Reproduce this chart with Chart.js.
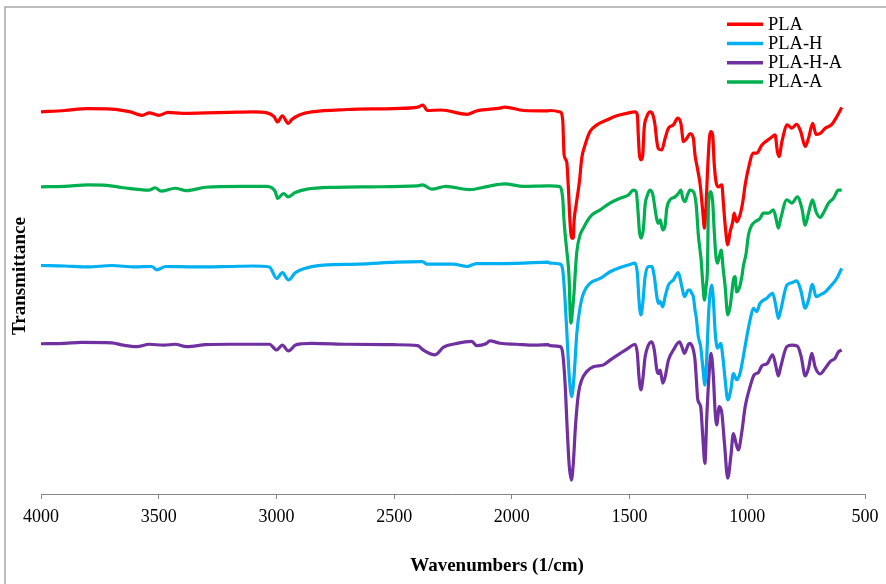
<!DOCTYPE html>
<html>
<head>
<meta charset="utf-8">
<title>FTIR PLA</title>
<script src="https://cdn.jsdelivr.net/npm/chart.js@4.4.1/dist/chart.umd.min.js"></script>
<style>
  body { margin: 0; background: #fff; }
  #contenedor { width: 886px; height: 584px; position: relative; }
</style>
</head>
<body>
<div id="contenedor"><canvas id="myChart"></canvas></div>
<script>
// ticks del eje x (cm-1)
var xTicks = [4000, 3500, 3000, 2500, 2000, 1500, 1000, 500];
var etiquetas = ['PLA', 'PLA-H', 'PLA-H-A', 'PLA-A'];
var colores = ['#FF0000', '#00B0F0', '#7030A0', '#00B050'];

// PLA
var plaWn = [4000,3900,3800,3700,3620,3570,3540,3500,3460,3400,3300,3200,3100,3040,3010,2995,2975,2950,2935,2900,2850,2700,2500,2400,2377,2360,2300,2190,2150,2050,2030,1950,1850,
  1838,1795,1784,1778,1767,1760,1753,1746,1739,1736,1727,1713,1703,1689,1668,1639,1597,1554,1512,1477,1467,1463,1458,1451,1444,1438,1427,1413,1401,1392,1384,1378,1363,1349,1335,1314,1295,1282,1271,1257,1243,1229,1222,1212,1200,1189,1182,1175,1169,1161,1155,1147,1141,1133,1123,1108,1102,1094,1083,1073,1062,1056,1045,1031,1019,1009,995,974,960,938,903,882,872,865,853,830,811,790,773,754,740,722,708,691,669,641,620,599];
var plaT = [79.6,79.9,80.3,80.2,79.6,78.9,79.4,78.9,79.5,79.3,79.4,79.5,79.6,79.4,78.6,77.5,78.8,77.2,78.0,79.0,79.6,80.1,80.3,80.6,81.0,79.9,80.0,79.1,79.8,80.4,80.6,79.9,79.8,
  79.9,79.6,77.9,70.6,69.2,63.8,56.7,53.3,53.3,56.7,60.2,65.1,70.0,72.7,75.5,76.9,77.9,78.8,79.3,79.6,79.0,74.8,70.6,69.6,70.6,76.2,78.6,79.6,79.0,76.9,73.4,72.0,71.7,74.1,76.2,76.9,78.3,77.2,73.4,74.1,75.1,74.1,70.6,67.9,64.4,58.8,55.4,60.2,67.1,74.1,75.5,74.8,69.2,65.1,64.0,64.4,60.9,56.0,51.9,54.6,56.7,58.5,56.7,58.1,60.9,64.4,67.9,71.0,71.0,72.7,74.1,74.8,71.3,70.3,73.4,76.9,76.2,77.0,75.5,72.4,74.1,77.2,74.9,75.1,76.2,77.0,78.6,80.5];

// PLA-H
var plaHWn = [4000,3900,3800,3700,3600,3530,3508,3470,3350,3200,3100,3030,2999,2975,2949,2920,2880,2800,2650,2489,2380,2360,2250,2190,2150,2050,1950,1846,
  1838,1795,1784,1774,1764,1756,1746,1736,1724,1710,1696,1668,1625,1583,1540,1505,1477,1467,1460,1452,1444,1434,1420,1406,1395,1384,1378,1370,1359,1349,1335,1314,1293,1278,1267,1250,1243,1236,1229,1222,1217,1208,1198,1189,1180,1172,1165,1158,1151,1144,1137,1127,1113,1104,1094,1083,1070,1059,1045,1031,1017,1002,988,974,960,946,917,892,878,868,858,832,811,790,773,754,740,723,708,691,669,648,620,599];
var plaHT = [47.6,47.5,47.3,47.6,47.3,47.4,46.7,47.4,47.3,47.4,47.5,47.3,44.9,46.1,44.6,46.1,47.0,47.7,47.9,48.3,48.4,47.9,47.9,47.4,48.0,48.0,48.1,48.3,
  48.1,47.9,46.7,40.4,31.4,24.4,20.3,24.4,33.5,39.0,41.8,43.9,44.9,46.3,47.2,47.7,48.1,46.0,40.4,37.3,39.7,45.3,47.4,47.4,45.3,41.1,39.7,40.1,39.0,41.1,43.5,44.6,46.1,43.2,41.1,42.5,42.5,41.8,41.1,38.3,36.9,32.8,30.7,26.5,22.7,28.6,36.9,41.8,43.5,40.4,34.2,30.4,31.4,28.6,23.8,19.6,21.7,25.1,23.8,25.1,28.6,32.8,36.3,38.7,38.0,39.7,40.8,41.8,39.0,36.6,38.3,43.5,44.0,44.4,42.5,38.7,40.4,43.7,41.1,41.5,42.1,43.2,44.9,47.0];

// PLA-H-A
var plaHAWn = [4000,3900,3830,3700,3650,3593,3540,3480,3430,3381,3300,3200,3100,3030,2999,2975,2949,2920,2890,2850,2700,2500,2400,2376,2326,2290,2240,2170,2150,2110,2093,2050,1980,1900,1846,
  1838,1795,1784,1774,1764,1756,1747,1739,1730,1717,1703,1682,1654,1611,1583,1540,1505,1477,1467,1460,1452,1444,1434,1420,1406,1395,1384,1378,1370,1359,1349,1335,1314,1288,1278,1267,1250,1243,1236,1229,1222,1217,1210,1198,1189,1180,1172,1163,1154,1144,1137,1130,1119,1108,1097,1083,1070,1059,1048,1038,1023,1009,988,971,953,938,915,892,878,868,858,832,811,787,771,754,740,726,712,691,669,648,627,613,599];
var plaHAT = [31.3,31.4,31.6,31.5,31.0,30.7,31.2,31.0,31.2,30.7,31.1,31.2,31.2,31.2,30.0,31.0,29.8,31.0,31.3,31.4,31.2,31.1,30.9,30.0,29.0,30.6,31.3,31.8,30.9,31.3,31.9,31.4,31.2,31.0,31.1,
  30.9,30.7,29.3,23.1,12.6,5.7,2.9,6.4,14.0,21.0,23.8,25.5,26.5,26.9,27.9,29.3,30.4,31.2,29.3,24.4,21.7,23.8,28.6,31.0,31.7,30.0,25.8,25.1,25.8,23.1,24.4,27.9,30.0,31.7,30.7,29.3,31.2,31.4,31.0,30.0,27.9,24.4,19.6,18.2,11.9,6.4,16.1,24.4,29.3,24.4,17.5,14.4,18.2,16.8,10.6,3.3,7.8,12.6,10.6,9.2,13.0,18.2,22.4,24.8,25.3,26.7,27.2,29.0,26.5,24.6,26.5,30.7,31.0,30.8,28.6,24.6,26.2,29.3,26.5,25.0,26.2,27.6,28.3,29.6,30.0];

// PLA-A
var plaAWn = [4000,3900,3800,3720,3650,3540,3515,3490,3430,3381,3300,3150,3040,3005,2995,2970,2950,2920,2870,2750,2600,2400,2380,2340,2280,2180,2100,2030,1950,1850,
  1838,1795,1784,1778,1767,1760,1756,1753,1749,1741,1736,1730,1724,1710,1696,1682,1661,1625,1583,1540,1505,1484,1472,1465,1458,1451,1441,1434,1424,1413,1401,1392,1384,1378,1370,1359,1349,1342,1328,1307,1293,1282,1274,1264,1254,1243,1229,1217,1208,1200,1196,1189,1182,1175,1169,1165,1155,1147,1141,1133,1127,1119,1111,1102,1094,1083,1073,1066,1059,1052,1045,1034,1023,1017,1005,995,981,967,946,932,910,889,878,868,858,832,811,787,768,754,740,723,708,691,677,655,634,613,599];
var plaAT = [64.0,64.1,64.4,64.3,63.8,63.3,63.8,63.1,63.7,63.2,63.9,64.1,64.1,63.0,61.6,62.6,61.9,62.8,63.5,63.9,64.0,64.2,64.4,63.5,64.1,63.4,64.1,64.6,64.1,64.2,
  64.2,64.0,61.6,56.7,50.8,47.4,43.9,38.3,35.6,39.0,41.8,46.7,50.5,54.0,55.4,56.7,58.1,59.2,60.6,61.6,62.3,63.3,63.0,59.5,54.6,53.3,55.4,60.2,62.3,63.3,62.3,59.5,57.1,56.4,57.1,55.0,56.0,59.5,61.3,61.9,62.6,63.3,61.6,60.9,62.3,63.3,63.0,60.2,54.0,50.5,48.8,43.9,40.4,43.2,47.4,60.2,63.0,60.9,55.4,49.4,48.1,49.4,50.8,46.7,43.2,37.3,39.0,41.8,44.6,45.3,42.1,42.9,45.3,47.4,50.1,54.0,56.0,56.7,57.4,58.5,58.5,59.2,57.4,55.4,57.4,61.3,60.6,61.9,59.5,56.0,58.5,61.3,58.8,57.6,58.5,60.6,61.6,63.3,63.3];

function puntos(wn, t) {
  var p = [];
  for (var i = 0; i < wn.length; i++) {
    p.push({ x: wn[i], y: t[i] });
  }
  return p;
}

var series = [puntos(plaWn, plaT), puntos(plaHWn, plaHT), puntos(plaHAWn, plaHAT), puntos(plaAWn, plaAT)];

// marco, leyenda y titulos de ejes
var decoracion = {
  id: 'decoracion',
  afterDraw: function(chart) {
    var ctx = chart.ctx;
    ctx.save();
    ctx.strokeStyle = '#A6A6A6';
    ctx.lineWidth = 1.5;
    ctx.strokeRect(5, 7, 1000, 1000);

    ctx.font = '18.5px "Liberation Serif"';
    ctx.textBaseline = 'middle';
    ctx.textAlign = 'left';
    for (var i = 0; i < etiquetas.length; i++) {
      var y = 24.3 + i * 19.2;
      ctx.strokeStyle = colores[i];
      ctx.lineWidth = 3.5;
      ctx.beginPath();
      ctx.moveTo(727, y);
      ctx.lineTo(763, y);
      ctx.stroke();
      ctx.fillStyle = '#000';
      ctx.fillText(etiquetas[i], 768, y + 0.5);
    }

    ctx.font = 'bold 19px "Liberation Serif"';
    ctx.textAlign = 'center';
    ctx.fillStyle = '#000';
    ctx.fillText('Wavenumbers (1/cm)', 497, 566);
    ctx.translate(20, 276);
    ctx.rotate(-Math.PI / 2);
    ctx.fillText('Transmittance', 0, 0);
    ctx.restore();
  }
};

var datasets = [];
for (var i = 0; i < series.length; i++) {
  datasets.push({
    label: etiquetas[i],
    data: series[i],
    borderColor: colores[i],
    backgroundColor: colores[i],
    borderWidth: 3.2,
    pointRadius: 0,
    fill: false,
    cubicInterpolationMode: 'monotone',
    order: series.length - i
  });
}

const ctx = document.getElementById('myChart');
new Chart(ctx, {
  type: 'line',
  data: { datasets: datasets },
  options: {
    responsive: true,
    maintainAspectRatio: false,
    animation: false,
    devicePixelRatio: 1,
    layout: { padding: { left: 41, right: 21, top: 14, bottom: 0 } },
    plugins: {
      legend: { display: false },
      tooltip: { enabled: false }
    },
    scales: {
      x: {
        type: 'linear',
        reverse: true,
        min: 500,
        max: 4000,
        afterBuildTicks: function(s) {
          s.ticks = xTicks.map(function(v) { return { value: v }; });
        },
        afterFit: function(s) { s.height = 90; },
        grid: { drawOnChartArea: false, drawTicks: true, tickLength: 5, color: '#868686', lineWidth: 1 },
        border: { color: '#868686', width: 1 },
        ticks: {
          color: '#000',
          font: { family: 'Liberation Serif', size: 18 },
          padding: 7,
          maxRotation: 0,
          autoSkip: false,
          callback: function(v) { return String(v); }
        }
      },
      y: { display: false, min: 0, max: 100 }
    }
  },
  plugins: [decoracion]
});
</script>
</body>
</html>
